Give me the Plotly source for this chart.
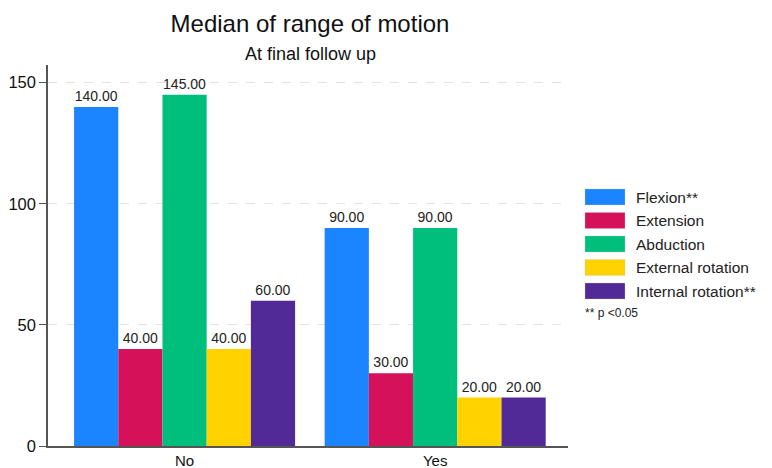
import plotly.graph_objects as go

categories = ["No", "Yes"]
series_names = ["Flexion**", "Extension", "Abduction", "External rotation", "Internal rotation**"]
flexion = [140, 90]
extension = [40, 30]
abduction = [145, 90]
external_rotation = [40, 20]
internal_rotation = [60, 20]
series_values = [flexion, extension, abduction, external_rotation, internal_rotation]
colors = ["#1a85ff", "#d41159", "#00bf7d", "#ffd200", "#512a98"]
y_ticks = [0, 50, 100, 150]

# page body has an 8px margin; work in reference-pixel coordinates and shift
OFF = 8
W, H = 772 - OFF, 468 - OFF
L, R, T, B = 48 - OFF, 204, 65 - OFF, 22
pw, ph = W - L - R, H - T - B

def px(x):
    return (x - OFF - L) / pw

def py(y):
    return (H - B - (y - OFF)) / ph

fig = go.Figure()
for name, vals, col in zip(series_names, series_values, colors):
    fig.add_trace(go.Bar(
        x=categories, y=vals, name=name,
        marker=dict(color=col, line=dict(width=0)),
        texttemplate="%{y:.2f}", textposition="outside",
        textfont=dict(size=14, color="#222222"),
        cliponaxis=False,
    ))

shapes = []
annotations = []
for i, (name, col) in enumerate(zip(series_names, colors)):
    top = 189 + i * 23.5
    shapes.append(dict(
        type="rect", xref="paper", yref="paper",
        x0=px(585), x1=px(625), y0=py(top + 16), y1=py(top),
        fillcolor=col, line=dict(width=0.5, color="rgba(200,200,200,0.6)"),
    ))
    annotations.append(dict(
        text=name, xref="paper", yref="paper",
        x=px(634), y=py(top + 8), xanchor="left", yanchor="middle",
        showarrow=False, font=dict(size=15.5, color="#222222"),
    ))
annotations.append(dict(
    text="** p <0.05", xref="paper", yref="paper",
    x=px(583), y=py(313), xanchor="left", yanchor="middle",
    showarrow=False, font=dict(size=12, color="#222222"),
))
annotations.append(dict(
    text="At final follow up", xref="paper", yref="paper",
    x=px(310), y=py(54), xanchor="center", yanchor="middle",
    showarrow=False, font=dict(size=18, color="#111111"),
))

fig.update_layout(
    width=W, height=H,
    margin=dict(l=L, r=R, t=T, b=B),
    paper_bgcolor="white", plot_bgcolor="white",
    font=dict(family="Liberation Sans, Arial, sans-serif", color="#111111"),
    barmode="group", bargap=0.118, bargroupgap=0,
    title=dict(
        text="Median of range of motion",
        x=(310 - OFF) / W, xanchor="center", xref="container",
        y=1 - (24 - OFF) / H, yanchor="middle", yref="container",
        font=dict(size=24, color="#111111"),
    ),
    showlegend=False,
    xaxis=dict(
        range=[-0.545, 1.53],
        showline=True, linecolor="#555555", linewidth=1.5,
        ticks="", ticklen=0, showgrid=False, automargin=False,
        tickfont=dict(size=15, color="#111111"),
    ),
    yaxis=dict(
        range=[0, 157.3],
        tickvals=y_ticks,
        showline=True, linecolor="#555555", linewidth=1.5,
        ticks="outside", ticklen=7, tickcolor="#555555",
        showgrid=True, gridcolor="#e3e3e3", griddash="dash", gridwidth=1,
        zeroline=False, automargin=False,
        tickfont=dict(size=16.5, color="#111111"),
    ),
    shapes=shapes,
    annotations=annotations,
)

fig.write_html("out.html")
